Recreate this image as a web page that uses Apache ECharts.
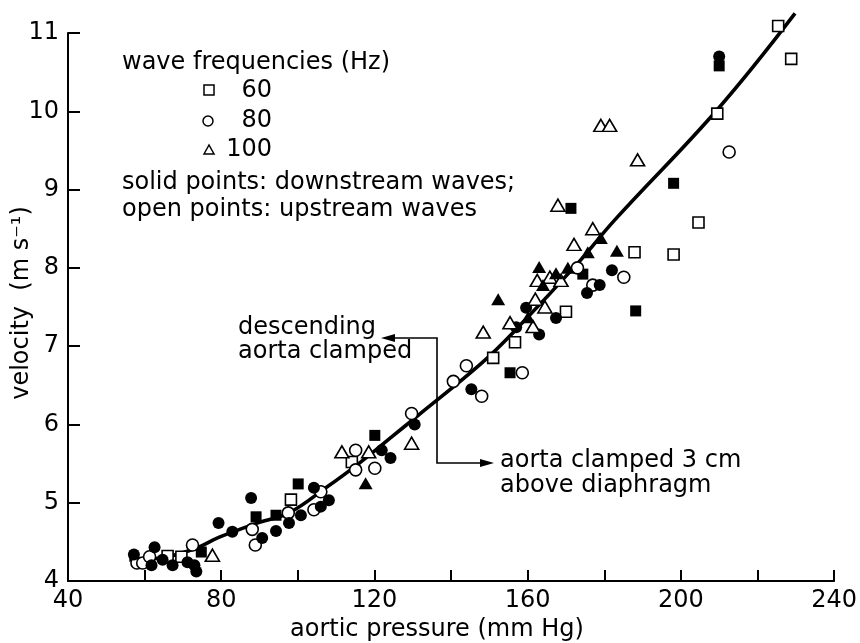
<!DOCTYPE html>
<html><head><meta charset="utf-8">
<script src="https://cdn.jsdelivr.net/npm/echarts@6/dist/echarts.min.js"></script>
<style>html,body{margin:0;padding:0;background:#fff}#c{width:860px;height:643px}</style>
</head><body><div id="c"></div>
<script>
// ---- data ----
const xAxisRange = [40, 240];
const yAxisRange = [4, 11];
const xLabelEvery = 40;

const open60 = [[225.4,11.09],[228.8,10.67],[209.5,9.97],[204.6,8.58],[198.1,8.17],[187.9,8.2],[170,7.44],[156.7,7.05],[151,6.85],[114.1,5.52],[98.2,5.04],[66,4.32],[69.6,4.31]];
const solid60 = [[210,10.58],[198.1,9.08],[188.2,7.45],[174.4,7.92],[171.3,8.76],[155.4,6.66],[120.1,5.86],[100.1,5.24],[94.3,4.84],[89.1,4.82],[74.8,4.37]];
const open80 = [[212.6,9.48],[185.1,7.88],[177,7.78],[173,8.0],[158.6,6.66],[148,6.36],[144,6.75],[140.6,6.55],[129.7,6.14],[115.1,5.67],[115.1,5.42],[120.1,5.44],[106,5.14],[104.2,4.91],[97.5,4.87],[88.1,4.66],[88.9,4.46],[72.5,4.46],[58,4.23],[59.5,4.23],[61.3,4.31]];
const solid80 = [[210,10.7],[182,7.97],[178.8,7.78],[175.5,7.68],[167.4,7.36],[163,7.15],[159.6,7.49],[157,7.24],[145.3,6.45],[130.5,6.0],[121.9,5.67],[124.2,5.57],[104.2,5.19],[108.1,5.03],[106,4.95],[100.8,4.84],[97.7,4.74],[94.3,4.64],[90.7,4.55],[87.8,5.06],[79.3,4.74],[82.9,4.63],[62.6,4.43],[57.2,4.34],[61.8,4.2],[64.7,4.27],[67.3,4.2],[71.2,4.24],[73,4.2],[73.5,4.12]];
const open100 = [[179.1,9.82],[181.4,9.82],[188.7,9.38],[167.9,8.8],[177,8.5],[172.1,8.3],[162.5,7.84],[165.8,7.88],[168.7,7.84],[162,7.6],[164.5,7.5],[161.4,7.25],[155.4,7.3],[148.4,7.18],[129.7,5.76],[111.5,5.65],[118.5,5.65],[77.7,4.33]];
const solid100 = [[183.3,8.22],[179.1,8.38],[175.7,8.2],[170.5,8.0],[167.4,7.93],[163,8.01],[164,7.78],[160.1,7.37],[152.3,7.6],[117.7,5.25]];
const fitCurve = [[56,4.27],[65,4.3],[73.5,4.42],[79.5,4.56],[90,4.75],[97.7,4.87],[107.3,5.19],[115.9,5.5],[124.5,5.84],[131.5,6.12],[147.9,6.78],[157.5,7.24],[173.1,8.06],[182.7,8.61],[209.5,10.02],[229.8,11.25]];

const legendTitle = 'wave frequencies (Hz)';
const legendFreqs = ['60','80','100'];
const legendNotes = ['solid points: downstream waves;','open points: upstream waves'];
const note1 = ['descending','aorta clamped'];
const note2 = ['aorta clamped 3 cm','above diaphragm'];
const xTitle = 'aortic pressure (mm Hg)';
const yTitle = 'velocity  (m s\u207B\u00B9)';

// ---- chart ----
const FONT = '"DejaVu Sans", sans-serif';
const chart = echarts.init(document.getElementById('c'));
const tri = 'path://M0,10 L5,0 L10,10 Z';
function sc(name, data, symbol, size, solid) {
  return {
    type: 'scatter', name, data, symbol, symbolSize: size, z: 3, clip: false,
    itemStyle: { color: solid ? '#000' : '#fff', borderColor: '#000', borderWidth: solid ? 0 : 1.6, opacity: 1 },
    emphasis: { disabled: true }
  };
}
const txt = (x, cy, s, extra) => ({ type: 'text', x: x, y: cy,
  style: Object.assign({ text: s, font: '24px ' + FONT, fill: '#000', verticalAlign: 'middle' }, extra || {}) });

chart.setOption({
  animation: false,
  backgroundColor: '#fff',
  grid: { left: 68, right: 23, top: 33, bottom: 62 },
  xAxis: {
    type: 'value', min: xAxisRange[0], max: xAxisRange[1], interval: 20,
    axisLine: { lineStyle: { color: '#000', width: 2 } },
    axisTick: { inside: true, length: 11, lineStyle: { color: '#000', width: 2 } },
    axisLabel: { color: '#000', fontSize: 24, fontFamily: FONT, margin: 8,
      formatter: v => (v % xLabelEvery === 0 ? String(v) : '') },
    splitLine: { show: false }
  },
  yAxis: {
    type: 'value', min: yAxisRange[0], max: yAxisRange[1], interval: 1,
    axisLine: { show: true, lineStyle: { color: '#000', width: 2 } },
    axisTick: { show: true, inside: true, length: 12, lineStyle: { color: '#000', width: 2 } },
    axisLabel: { color: '#000', fontSize: 24, fontFamily: FONT, margin: 9 },
    splitLine: { show: false }
  },
  series: [
    { type: 'line', data: fitCurve, smooth: 0.4, symbol: 'none', z: 2, clip: false,
      lineStyle: { color: '#000', width: 3.6 } },
    sc('60 open', open60, 'rect', 11, false),
    sc('60 solid', solid60, 'rect', 11, true),
    sc('80 open', open80, 'circle', 12, false),
    sc('80 solid', solid80, 'circle', 12, true),
    sc('100 open', open100, tri, [14, 12], false),
    sc('100 solid', solid100, tri, [14, 12], true)
  ],
  graphic: [
    txt(122, 63, legendTitle),
    { type: 'rect', shape: { x: 204, y: 85, width: 10, height: 10 }, style: { fill: '#fff', stroke: '#000', lineWidth: 1.5 } },
    { type: 'circle', shape: { cx: 208, cy: 121, r: 5 }, style: { fill: '#fff', stroke: '#000', lineWidth: 1.5 } },
    { type: 'polygon', shape: { points: [[204, 154], [209, 145], [214, 154]] }, style: { fill: '#fff', stroke: '#000', lineWidth: 1.5 } },
    txt(272, 91, legendFreqs[0], { align: 'right' }),
    txt(272, 121, legendFreqs[1], { align: 'right' }),
    txt(272, 150, legendFreqs[2], { align: 'right' }),
    txt(122, 183, legendNotes[0]),
    txt(122, 210, legendNotes[1]),
    txt(238, 328, note1[0]),
    txt(238, 352, note1[1]),
    txt(500, 461, note2[0]),
    txt(500, 486, note2[1]),
    { type: 'polyline', shape: { points: [[393, 338], [437, 338], [437, 463], [482, 463]] }, style: { stroke: '#000', lineWidth: 1.6, fill: null } },
    { type: 'polygon', shape: { points: [[381, 338], [395, 334], [395, 342]] }, style: { fill: '#000' } },
    { type: 'polygon', shape: { points: [[494, 463], [480, 459], [480, 467]] }, style: { fill: '#000' } },
    txt(290, 630, xTitle),
    { type: 'text', x: 22, y: 303, rotation: Math.PI / 2,
      style: { text: yTitle, font: '24px ' + FONT, fill: '#000', align: 'center', verticalAlign: 'middle' } }
  ]
});
</script></body></html>
